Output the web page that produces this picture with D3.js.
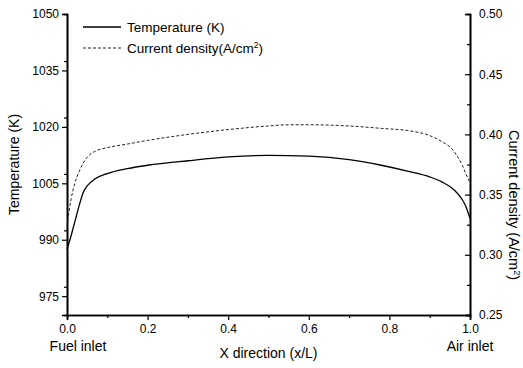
<!DOCTYPE html>
<html><head><meta charset="utf-8">
<script src="https://cdn.jsdelivr.net/npm/d3@7"></script>
<style>
html,body{margin:0;padding:0;background:#fff;}
svg{display:block;font-family:"Liberation Sans",Arial,sans-serif;}
</style></head>
<body>
<script>
// Data
const xPos = [0, 0.01, 0.02, 0.03, 0.04, 0.05, 0.07, 0.1, 0.15, 0.2, 0.3, 0.4, 0.5, 0.6, 0.7, 0.78, 0.85, 0.9, 0.93, 0.96, 0.98, 0.99, 1.0];
const temperature = [987.5, 991, 995, 999, 1002.5, 1004.3, 1006.2, 1007.6, 1008.9, 1009.8, 1011, 1012, 1012.4, 1012.2, 1011.3, 1009.8, 1008.1, 1006.7, 1005.4, 1003.3, 1000.8, 998.8, 995.7];
const xPosI = [0, 0.005, 0.01, 0.02, 0.03, 0.04, 0.05, 0.07, 0.1, 0.15, 0.2, 0.3, 0.4, 0.5, 0.55, 0.6, 0.7, 0.78, 0.85, 0.9, 0.93, 0.955, 0.97, 0.98, 0.99, 1.0];
const currentDensity = [0.324, 0.336, 0.346, 0.360, 0.369, 0.376, 0.381, 0.386, 0.389, 0.392, 0.395, 0.400, 0.404, 0.407, 0.408, 0.408, 0.407, 0.405, 0.403, 0.399, 0.394, 0.388, 0.381, 0.375, 0.367, 0.360];
const xTicks = [0, 0.2, 0.4, 0.6, 0.8, 1.0];
const leftTicks = [975, 990, 1005, 1020, 1035, 1050];
const rightTicks = [0.25, 0.30, 0.35, 0.40, 0.45, 0.50];
const seriesNames = ["Temperature (K)", "Current density(A/cm", "2", ")"];

const W = 523, H = 368;
const L = 67, R = 470, T = 14, B = 315;
const svg = d3.select("body").append("svg").attr("width", W).attr("height", H);

const x = d3.scaleLinear().domain([0, 1]).range([L, R]);
const yL = d3.scaleLinear().domain([970, 1050]).range([B, T]);
const yR = d3.scaleLinear().domain([0.25, 0.50]).range([B, T]);

const fs = 12;
// Left axis
svg.append("g").attr("transform", `translate(${L},0)`)
  .call(d3.axisLeft(yL).tickValues(leftTicks).tickSize(5).tickPadding(3).tickFormat(d3.format("d")));
svg.append("g").attr("transform", `translate(${L},0)`)
  .call(d3.axisLeft(yL).tickValues(d3.range(977.5, 1050, 15)).tickSize(3).tickFormat(""));
// Right axis (inward ticks)
svg.append("g").attr("transform", `translate(${R},0)`)
  .call(d3.axisRight(yR).tickValues(rightTicks).tickSize(-5).tickPadding(9).tickFormat(d3.format(".2f")));
svg.append("g").attr("transform", `translate(${R},0)`)
  .call(d3.axisRight(yR).tickValues(d3.range(0.275, 0.5, 0.05)).tickSize(-3).tickFormat(""));
// Bottom axis
svg.append("g").attr("transform", `translate(0,${B})`)
  .call(d3.axisBottom(x).tickValues(xTicks).tickSize(5).tickPadding(4).tickFormat(d3.format(".1f")));
svg.append("g").attr("transform", `translate(0,${B})`)
  .call(d3.axisBottom(x).tickValues(d3.range(0.1, 1, 0.2)).tickSize(3).tickFormat(""));

svg.selectAll(".domain").attr("stroke", "#000").attr("stroke-width", 1.6);
svg.selectAll(".tick line").attr("stroke", "#000").attr("stroke-width", 1.2);
svg.selectAll(".tick text").attr("font-size", fs).attr("fill", "#000")
  .attr("font-family", "'Liberation Sans',Arial,sans-serif");

// Curves
const lineT = d3.line().x((d, i) => x(xPos[i])).y(d => yL(d)).curve(d3.curveMonotoneX);
const lineI = d3.line().x((d, i) => x(xPosI[i])).y(d => yR(d)).curve(d3.curveMonotoneX);
svg.append("path").datum(currentDensity).attr("d", lineI)
  .attr("fill", "none").attr("stroke", "#222").attr("stroke-width", 1).attr("stroke-dasharray", "3,2");
svg.append("path").datum(temperature).attr("d", lineT)
  .attr("fill", "none").attr("stroke", "#000").attr("stroke-width", 1.3);

// Legend
const lg = svg.append("g");
lg.append("line").attr("x1", 83).attr("x2", 121).attr("y1", 27).attr("y2", 27)
  .attr("stroke", "#000").attr("stroke-width", 1.3);
lg.append("text").attr("x", 127).attr("y", 32).attr("font-size", 13.5).text(seriesNames[0]);
lg.append("line").attr("x1", 83).attr("x2", 121).attr("y1", 48).attr("y2", 48)
  .attr("stroke", "#222").attr("stroke-width", 1).attr("stroke-dasharray", "3,2");
const t2 = lg.append("text").attr("x", 127).attr("y", 53).attr("font-size", 13.5);
t2.append("tspan").text(seriesNames[1]);
t2.append("tspan").attr("font-size", 8.5).attr("dy", -5).text(seriesNames[2]);
t2.append("tspan").attr("dy", 5).text(seriesNames[3]);

// Axis titles
svg.append("text").attr("transform", `translate(19,${(T + B) / 2}) rotate(-90)`)
  .attr("text-anchor", "middle").attr("font-size", 14).text("Temperature (K)");
const rt = svg.append("text").attr("transform", `translate(509,205) rotate(90)`)
  .attr("text-anchor", "middle").attr("font-size", 14.5);
rt.append("tspan").text("Current density (A/cm");
rt.append("tspan").attr("font-size", 9).attr("dy", -5).text("2");
rt.append("tspan").attr("dy", 5).text(")");

svg.append("text").attr("x", (L + R) / 2).attr("y", 358).attr("text-anchor", "middle")
  .attr("font-size", 14).text("X direction (x/L)");
svg.append("text").attr("x", 78).attr("y", 351).attr("text-anchor", "middle")
  .attr("font-size", 14).text("Fuel inlet");
svg.append("text").attr("x", 470).attr("y", 351).attr("text-anchor", "middle")
  .attr("font-size", 14).text("Air inlet");
</script>
</body></html>
